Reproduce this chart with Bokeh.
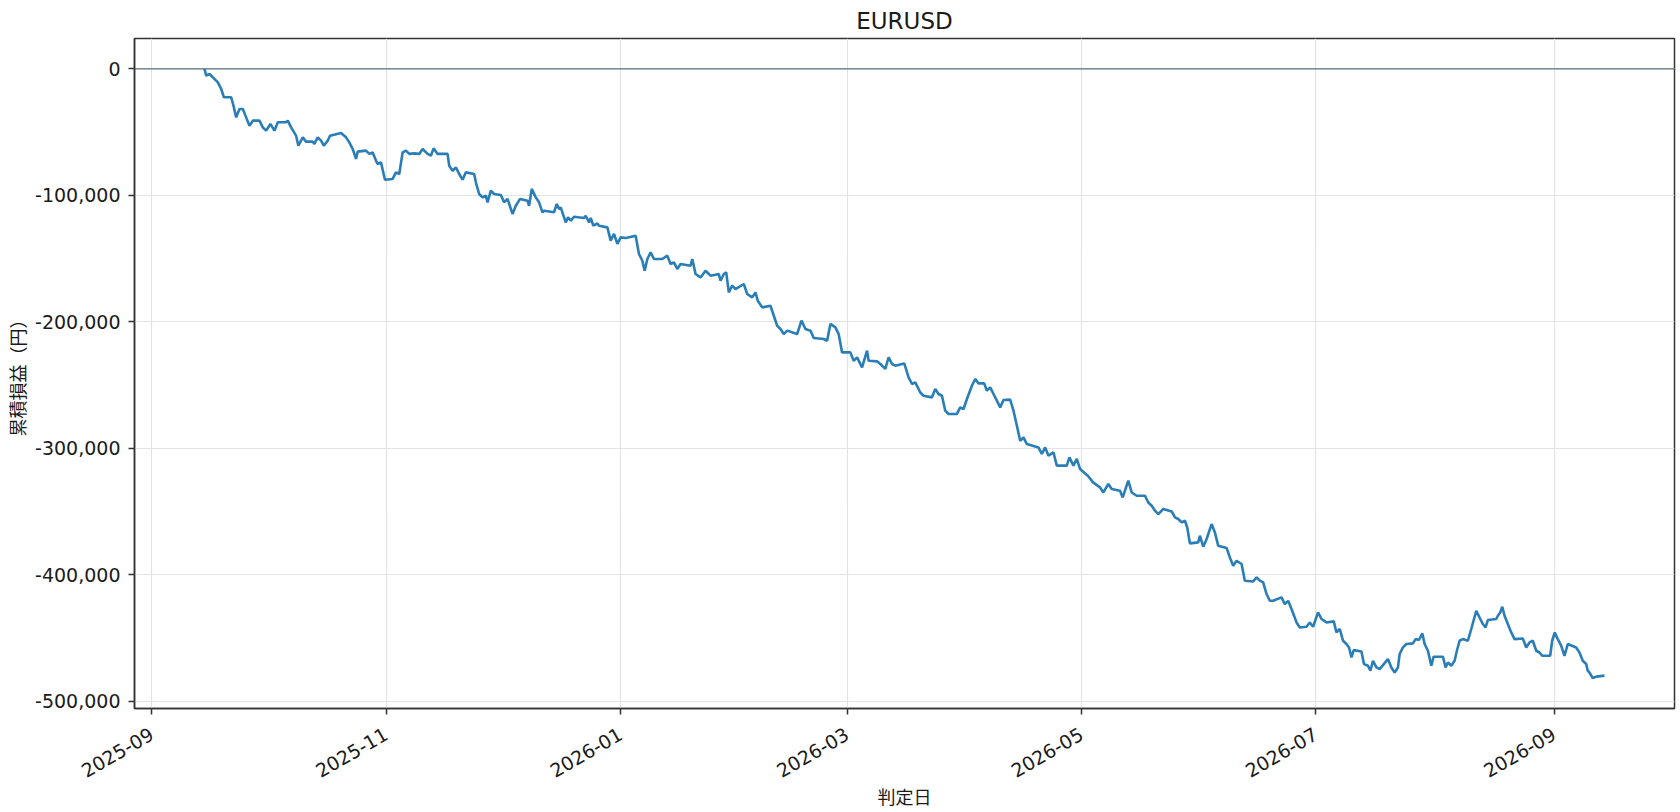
import math
import pandas as pd
from bokeh.plotting import figure
from bokeh.models import (Range1d, FixedTicker, DatetimeTickFormatter,
                          NumeralTickFormatter, Span, ColumnDataSource)
from bokeh.embed import file_html
from bokeh.resources import INLINE

# ---------------- data ----------------
title_text = "EURUSD"
x_label = "判定日"
y_label = "累積損益（円）"
start_time = "2025-09-14 18:00"

# days elapsed since start_time
day_offsets = [
    0.0, 0.44, 1.30, 2.18, 3.48, 4.34, 5.04, 6.94, 7.54, 8.24, 9.10, 9.98, 10.84, 11.70, 12.58, 14.30,
    15.18, 16.04, 17.16, 18.20, 19.08, 21.24, 21.68, 22.54, 23.84, 24.43, 25.58, 26.44, 28.18, 28.59,
    29.48, 30.34, 31.04, 32.08, 32.67, 35.53, 36.83, 37.69, 38.58, 39.43, 39.88, 42.03, 42.89, 43.77,
    44.63, 45.07, 45.93, 46.97, 48.97, 49.83, 50.69, 51.57, 52.43, 53.29, 54.59, 55.89, 56.77, 58.07,
    58.93, 59.63, 60.67, 63.27, 63.69, 64.57, 65.43, 66.29, 67.17, 68.03, 70.19, 70.63, 71.49, 72.37,
    73.23, 73.67, 74.53, 75.38, 77.13, 77.98, 78.87, 80.17, 81.02, 82.14, 84.07, 84.48, 85.18, 86.22,
    87.08, 87.96, 88.38, 90.98, 91.68, 92.28, 92.72, 94.02, 94.62, 95.32, 96.18, 98.78, 99.22, 100.08,
    100.52, 101.22, 102.26, 102.68, 104.86, 105.72, 106.58, 107.46, 108.32, 109.62, 112.22, 113.08,
    113.96, 114.56, 115.26, 116.12, 116.97, 119.16, 120.46, 121.31, 122.17, 123.06, 123.92, 126.52,
    126.96, 127.81, 129.11, 130.41, 131.71, 133.87, 134.31, 135.17, 135.79, 136.47, 137.35, 138.21,
    140.37, 141.25, 142.55, 143.41, 144.01, 145.15, 147.31, 149.05, 149.92, 150.77, 151.65, 154.25,
    155.37, 156.41, 157.71, 158.57, 161.17, 162.05, 162.91, 164.21, 165.06, 165.95, 168.11, 168.96,
    169.85, 171.15, 172.45, 172.86, 175.05, 175.90, 177.20, 178.06, 178.95, 179.80, 182.14, 183.26,
    184.14, 185.00, 186.30, 187.16, 189.34, 190.20, 191.06, 191.94, 192.80, 193.66, 195.84, 196.70,
    197.56, 198.44, 199.74, 200.60, 201.46, 202.94, 203.64, 204.50, 205.36, 206.24, 207.10, 207.96,
    209.70, 210.56, 211.45, 212.30, 213.16, 214.04, 217.06, 217.94, 218.80, 219.66, 220.96, 221.84,
    224.44, 225.12, 226.16, 227.04, 227.89, 229.97, 231.27, 233.08, 233.94, 235.24, 236.13, 238.29,
    238.99, 240.44, 241.33, 242.63, 244.79, 245.64, 246.53, 247.39, 248.25, 249.55, 251.73, 252.59,
    253.45, 254.33, 255.19, 255.78, 256.49, 258.64, 259.08, 259.94, 260.83, 262.13, 262.98, 263.84,
    266.03, 266.88, 267.74, 268.63, 269.93, 270.78, 272.94, 273.83, 274.68, 275.54, 276.42, 277.28,
    278.14, 280.33, 281.19, 282.05, 282.93, 284.23, 285.08, 286.83, 287.68, 288.54, 289.84, 290.73,
    292.03, 293.92, 294.62, 295.48, 296.34, 297.22, 297.90, 298.52, 299.12, 301.12, 301.79, 302.83,
    303.46, 304.13, 305.02, 305.87, 308.03, 308.91, 309.77, 310.63, 311.07, 311.93, 312.82, 314.53,
    315.23, 316.09, 316.98, 317.57, 318.43, 319.31, 319.91, 322.33, 323.03, 323.63, 324.51, 325.37,
    325.97, 326.67, 327.53, 328.83, 329.71, 331.01, 331.87, 332.73, 333.43, 334.03, 336.22, 336.63,
    337.26, 337.78, 338.37, 339.23, 340.12, 340.98, 343.13, 344.02, 344.87, 345.73, 346.62, 347.47,
    348.17, 350.25, 350.77, 351.45, 352.23, 353.11, 353.97, 354.83, 357.01, 357.87, 358.73, 359.62,
    360.03, 360.47, 361.33, 362.26, 364.39,
]

# cumulative P&L in thousands of yen
cum_pnl_k = [
    0.0, -5.3, -4.0, -6.6, -10.6, -15.8, -22.4, -22.4, -29.0, -38.3, -31.7, -31.7, -38.3, -44.9, -40.9, -40.9,
    -46.2, -48.8, -43.5, -48.8, -42.2, -42.2, -40.9, -46.2, -52.8, -60.7, -54.1, -57.5, -57.5, -59.3,
    -54.1, -56.7, -60.7, -56.7, -52.8, -50.6, -54.1, -58.1, -63.3, -71.2, -65.4, -64.6, -67.2, -66.0,
    -72.5, -75.2, -73.9, -87.6, -87.0, -81.8, -83.1, -66.0, -64.6, -67.2, -66.8, -67.2, -63.3, -67.2,
    -68.6, -62.8, -67.2, -67.2, -76.5, -80.5, -77.8, -83.1, -87.6, -81.8, -83.1, -89.7, -98.9, -101.6,
    -100.2, -105.5, -96.3, -98.9, -99.7, -105.5, -102.8, -114.7, -108.2, -102.8, -104.2, -108.2, -94.9, -101.6,
    -105.5, -113.4, -112.1, -113.4, -106.8, -110.8, -109.5, -121.4, -117.4, -120.0, -116.9, -117.9, -116.1, -121.4,
    -117.9, -124.0, -122.2, -124.0, -125.3, -135.8, -130.5, -138.4, -133.2, -133.7, -131.9, -146.4,
    -151.7, -159.6, -150.3, -145.1, -150.3, -150.3, -147.7, -154.3, -153.0, -158.2, -154.3, -155.6,
    -150.3, -162.2, -164.9, -159.6, -163.5, -162.2, -167.5, -162.2, -160.9, -176.7, -171.4, -174.1,
    -170.1, -178.0, -180.7, -176.7, -183.3, -188.6, -187.3, -203.1, -205.7, -209.7, -207.0, -209.7,
    -199.1, -205.7, -207.0, -212.8, -213.6, -215.0, -201.7, -204.4, -209.7, -224.2, -224.2, -230.8,
    -228.2, -236.1, -222.9, -230.8, -231.3, -233.4, -237.3, -228.2, -233.4, -234.7, -232.9, -244.0,
    -249.2, -247.9, -255.9, -258.5, -259.8, -253.2, -257.1, -258.5, -270.3, -272.9, -272.9, -267.7,
    -269.0, -261.1, -250.6, -245.3, -248.7, -248.7, -254.5, -251.9, -257.1, -262.4, -267.7, -261.9,
    -261.6, -270.3, -282.2, -294.1, -291.5, -296.7, -299.4, -304.6, -299.4, -305.9, -303.3, -313.8,
    -313.8, -307.3, -313.8, -308.5, -316.5, -322.0, -327.0, -331.0, -335.0, -328.3, -332.3, -333.6,
    -338.9, -325.7, -335.0, -337.6, -337.6, -342.9, -345.5, -349.4, -352.1, -348.1, -350.0, -354.7,
    -356.0, -358.7, -357.4, -362.7, -375.3, -374.5, -369.2, -377.9, -371.8, -360.0, -366.6, -377.1,
    -378.9, -386.4, -392.9, -389.0, -391.6, -404.8, -405.4, -402.2, -404.8, -406.2, -415.3, -420.7,
    -420.7, -418.0, -423.3, -420.7, -427.2, -437.8, -441.8, -441.2, -437.8, -441.2, -429.9, -435.1,
    -437.8, -437.0, -445.7, -443.0, -452.3, -454.9, -457.6, -465.5, -459.7, -460.8, -470.7, -472.1,
    -476.0, -468.1, -473.4, -474.7, -466.8, -473.4, -477.4, -473.4, -462.8, -457.6, -454.9, -454.4,
    -451.0, -451.7, -446.5, -454.9, -460.2, -472.1, -464.9, -464.9, -473.4, -469.5, -472.1, -468.1,
    -460.2, -452.3, -451.0, -452.3, -443.0, -428.6, -433.9, -439.1, -441.8, -435.9, -435.1, -432.5,
    -429.9, -425.4, -432.5, -439.1, -445.7, -451.0, -450.5, -457.6, -453.6, -452.3, -460.2, -461.6,
    -464.2, -464.2, -452.3, -445.7, -451.0, -456.2, -464.2, -454.9, -457.6, -461.6, -468.1, -470.7,
    -476.0, -477.4, -481.8, -480.7, -479.9,
]

x_tick_dates = ["2025-09-01", "2025-11-01", "2026-01-01", "2026-03-01",
                "2026-05-01", "2026-07-01", "2026-09-01"]
y_tick_values = [0, -100000, -200000, -300000, -400000, -500000]

# ---------------- build ----------------
times = pd.Timestamp(start_time) + pd.to_timedelta(day_offsets, unit="D")
pnl = [v * 1000 for v in cum_pnl_k]
src = ColumnDataSource(data=dict(t=times, pnl=pnl))

t0, t1 = times.min(), times.max()
tpad = (t1 - t0) * 0.05
ymin, ymax = min(pnl), max(pnl)
ypad = (ymax - ymin) * 0.05

FONT = "DejaVu Sans"
CJK = "Noto Sans CJK JP"
TXT = "#1a1a1a"

p = figure(width=1680, height=812, output_backend="svg", toolbar_location=None,
           x_axis_type="datetime",
           x_range=Range1d((t0 - tpad).to_pydatetime(), (t1 + tpad).to_pydatetime()),
           y_range=Range1d(ymin - ypad, ymax + ypad),
           min_border_left=134, min_border_right=6, min_border_top=38, min_border_bottom=104)

p.title.text = title_text
p.title.align = "center"
p.title.text_font = FONT
p.title.text_font_size = "23px"
p.title.text_font_style = "normal"
p.title.text_color = TXT
p.title.standoff = 10

p.background_fill_color = "white"
p.border_fill_color = "white"
p.outline_line_color = "#333333"
p.outline_line_width = 1.5
p.outline_line_alpha = 1.0

for g in (p.xgrid, p.ygrid):
    g.grid_line_color = "#e3e3e3"
    g.grid_line_width = 1.2

zero = Span(location=0, dimension="width", line_color="#5e7080", line_width=1.2, level="underlay")
p.add_layout(zero)

p.line("t", "pnl", source=src, line_color="#1f77b4", line_width=2.6, line_alpha=0.95)

# x axis
xa = p.xaxis[0]
xa.ticker = FixedTicker(ticks=[pd.Timestamp(d).value / 1e6 for d in x_tick_dates])
fmt = "%Y-%m"
xa.formatter = DatetimeTickFormatter(microseconds=fmt, milliseconds=fmt, seconds=fmt,
                                     minsec=fmt, minutes=fmt, hourmin=fmt, hours=fmt,
                                     days=fmt, months=fmt, years=fmt)
xa.major_label_orientation = math.pi / 6
xa.major_label_standoff = 18
xa.axis_label = x_label
xa.axis_label_standoff = -4

# y axis
ya = p.yaxis[0]
ya.ticker = FixedTicker(ticks=y_tick_values)
ya.formatter = NumeralTickFormatter(format="0,0")
ya.major_label_standoff = 8
ya.axis_label = y_label
ya.axis_label_standoff = 2

for ax in (xa, ya):
    ax.major_label_text_font = FONT
    ax.major_label_text_font_size = "19px"
    ax.major_label_text_color = TXT
    ax.axis_label_text_font = CJK
    ax.axis_label_text_font_size = "18px"
    ax.axis_label_text_font_style = "normal"
    ax.axis_label_text_color = TXT
    ax.major_tick_out = 6
    ax.major_tick_in = 0
    ax.minor_tick_out = 0
    ax.minor_tick_in = 0
    ax.major_tick_line_color = "#333333"
    ax.major_tick_line_width = 1.5
    ax.axis_line_color = "#333333"
    ax.axis_line_width = 1.5

open("out.html", "w").write(file_html(p, INLINE))
